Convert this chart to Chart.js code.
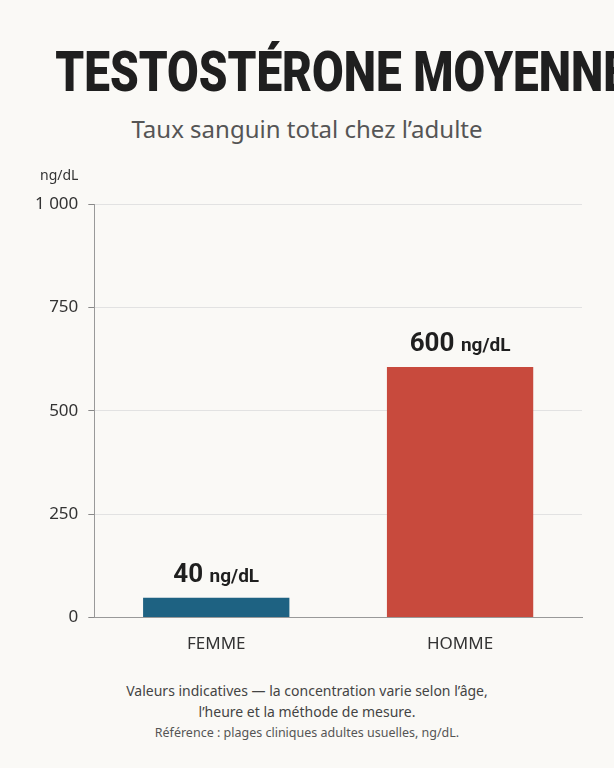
<!DOCTYPE html>
<html><head><meta charset="utf-8">
<script src="https://cdn.jsdelivr.net/npm/chart.js@4"></script>
<style>
html,body{margin:0;padding:0;background:#faf9f6;width:614px;height:768px;overflow:hidden;font-family:"Noto Sans",sans-serif}
#t{position:absolute;top:40px;left:0;width:614px;text-align:center;white-space:nowrap;font-family:"Roboto",sans-serif;font-weight:900;font-size:56px;color:#1f1f1f;line-height:64px;transform:scaleX(0.82);transform-origin:center}
#s{position:absolute;top:112px;left:0;width:614px;text-align:center;font-size:24px;color:#555}
#c{position:absolute;top:166px;left:0;width:614px;height:500px}
#f1{position:absolute;top:680px;left:0;width:614px;text-align:center;font-size:14px;color:#444;line-height:21px}
#f2{position:absolute;top:724px;left:0;width:614px;text-align:center;font-size:12.5px;color:#555}
</style></head><body>
<div id="t">TESTOSTÉRONE MOYENNE</div>
<div id="s">Taux sanguin total chez l’adulte</div>
<div id="c"><canvas id="cv" width="614" height="500"></canvas></div>
<div id="f1">Valeurs indicatives — la concentration varie selon l’âge,<br>l’heure et la méthode de mesure.</div>
<div id="f2">Référence : plages cliniques adultes usuelles, ng/dL.</div>
<script>
const categories=["FEMME","HOMME"];
const values=[48,606];
const valueLabels=["40","600"];
const unit="ng/dL";
const colors=["#1e6282","#c84a3d"];
const lbl={id:"lbl",afterDatasetsDraw(ch){const c=ch.ctx;const m=ch.getDatasetMeta(0);
m.data.forEach((b,i)=>{c.save();c.textBaseline="alphabetic";
c.font='700 26px "Roboto",sans-serif';const a=valueLabels[i];const w1=c.measureText(a+" ").width;
c.font='700 19px "Roboto",sans-serif';const w2=c.measureText(unit).width;
let x=b.x-(w1+w2)/2,y=b.y-16;c.fillStyle="#1f1f1f";
c.font='700 26px "Roboto",sans-serif';c.textAlign="left";c.fillText(a,x,y);
c.font='700 19px "Roboto",sans-serif';c.fillText(unit,x+w1,y);c.restore();});
const c2=ch.ctx;c2.save();c2.font='14px "Noto Sans",sans-serif';c2.fillStyle="#333";c2.textAlign="left";c2.fillText(unit,40,14);c2.restore();}};
new Chart(document.getElementById("cv"),{type:"bar",
data:{labels:categories,datasets:[{data:values,backgroundColor:colors,categoryPercentage:1,barPercentage:0.6}]},
options:{responsive:false,animation:false,layout:{padding:{left:25,right:32,top:38,bottom:4}},
plugins:{legend:{display:false},tooltip:{enabled:false}},
scales:{x:{grid:{display:false},border:{color:"#999"},ticks:{color:"#333",font:{size:17,family:"Noto Sans"},padding:8}},
y:{min:0,max:1000,ticks:{stepSize:250,color:"#333",font:{size:17,family:"Noto Sans"},padding:10,callback:v=>v===1000?"1 000":v},
grid:{color:"#e2e2e2",drawTicks:true,tickLength:6,tickColor:"#888"},border:{display:true,color:"#999"}}}},
plugins:[lbl]});
</script></body></html>
